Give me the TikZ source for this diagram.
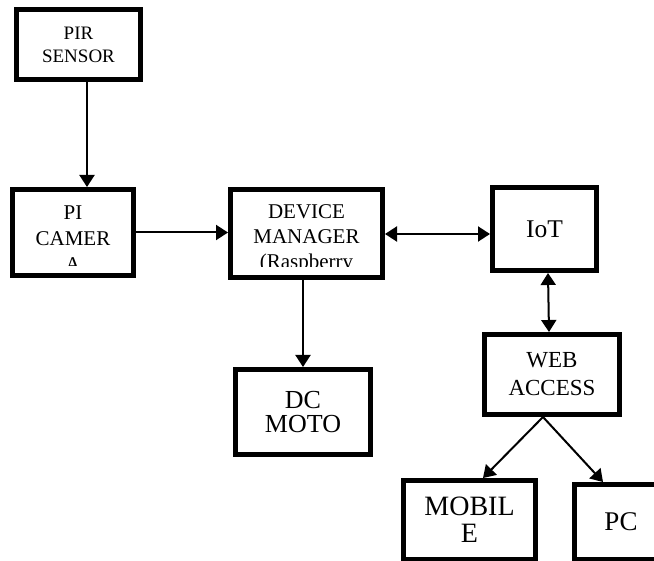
\documentclass[tikz,border=0pt]{standalone}
\usepackage{fontspec}
\setmainfont{Liberation Serif}
\usetikzlibrary{arrows.meta}
\tikzset{bbox/.style={
    rectangle,
    draw,
    line width=5pt,
    align=center,
    inner sep=0pt
  },
  arr/.style={line width=2pt,-{Triangle[length=12pt,width=15pt]}},
  darr/.style={line width=2pt,{Triangle[length=12pt,width=15pt]}-{Triangle[length=12pt,width=15pt]}},
  cliptext/.style n args={4}{path picture={
      \begin{scope}
        \clip ([yshift=#3]path picture bounding box.south west) rectangle (path picture bounding box.north east);
        \node[draw=none,align=center,inner sep=0pt,font=#4] at ([yshift=#2]path picture bounding box.center) {#1};
      \end{scope}}},
}
\begin{document}
\begin{tikzpicture}[x=1pt,y=-1pt]
  \useasboundingbox (0,0) rectangle (654,561);
  \clip (0,0) rectangle (654,561);
  \node[bbox,minimum width=124pt,minimum height=70pt,font=\fontsize{19}{23}\selectfont] (pir) at (78.5,44.5) {PIR\\SENSOR};
  \node[bbox,minimum width=121pt,minimum height=86pt,cliptext={PI\\CAMER\\A}{-6.5pt}{9.5pt}{\fontsize{21}{26}\selectfont}] (cam) at (73,232.5) {};
  \node[bbox,minimum width=152pt,minimum height=88pt,cliptext={DEVICE\\MANAGER\\(Raspberry}{-5pt}{10.5pt}{\fontsize{21}{25}\selectfont}] (dm) at (306.5,233.5) {};
  \node[bbox,minimum width=104pt,minimum height=83pt,font=\fontsize{25.5}{30}\selectfont] (iot) at (544.5,229) {IoT};
  \node[bbox,minimum width=135pt,minimum height=80pt,font=\fontsize{23}{28}\selectfont] (web) at (552,374.5) {WEB\\ACCESS};
  \node[bbox,minimum width=135pt,minimum height=85pt,font=\fontsize{26}{24}\selectfont] (dc) at (303,412) {DC\\MOTO};
  \node[bbox,minimum width=132pt,minimum height=79pt,font=\fontsize{28}{27}\selectfont] (mob) at (469.5,520) {MOBIL\\E};
  \node[bbox,minimum width=93pt,minimum height=75pt,font=\fontsize{27}{30}\selectfont] (pc) at (621,522) {PC};
  \draw[arr] ([xshift=8.5pt]pir.south) -- ([xshift=8.5pt]pir.south |- cam.north);
  \draw[arr] (cam.east) -- (cam.east -| dm.west);
  \draw[darr] ([yshift=-0.5pt]dm.east) -- ([yshift=-0.5pt]dm.east -| iot.west);
  \draw[arr] (dc.north |- dm.south) -- (dc.north);
  \draw[darr] ([xshift=3.5pt]iot.south) -- ([xshift=-3pt]web.north);
  \draw[arr] ([xshift=-9pt]web.south) -- ([xshift=13.5pt]mob.north);
  \draw[arr] ([xshift=-9pt]web.south) -- ([xshift=-18pt]pc.north);
\end{tikzpicture}
\end{document}
